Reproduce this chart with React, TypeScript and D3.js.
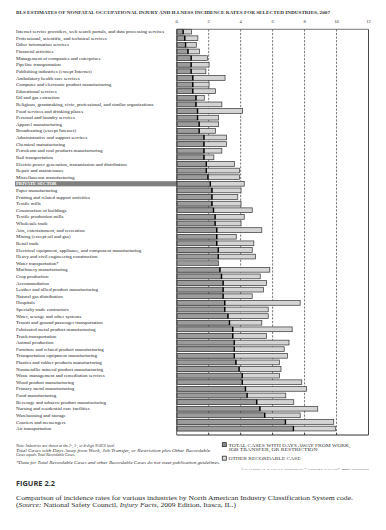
import React from "react";
import * as d3 from "d3";

// BLS 2007 incidence rates per 100 full-time workers
const categories = [
  "Internet service providers, web search portals, and data processing services",
  "Professional, scientific, and technical services",
  "Other information services",
  "Financial activities",
  "Management of companies and enterprises",
  "Pipeline transportation",
  "Publishing industries (except Internet)",
  "Ambulatory health care services",
  "Computer and electronic product manufacturing",
  "Educational services",
  "Oil and gas extraction",
  "Religious, grantmaking, civic, professional, and similar organizations",
  "Food services and drinking places",
  "Personal and laundry services",
  "Apparel manufacturing",
  "Broadcasting (except Internet)",
  "Administrative and support services",
  "Chemical manufacturing",
  "Petroleum and coal products manufacturing",
  "Rail transportation",
  "Electric power generation, transmission and distribution",
  "Repair and maintenance",
  "Miscellaneous manufacturing",
  "PRIVATE SECTOR",
  "Paper manufacturing",
  "Printing and related support activities",
  "Textile mills",
  "Construction of buildings",
  "Textile production mills",
  "Wholesale trade",
  "Arts, entertainment, and recreation",
  "Mining (except oil and gas)",
  "Retail trade",
  "Electrical equipment, appliance, and component manufacturing",
  "Heavy and civil engineering construction",
  "Water transportation*",
  "Machinery manufacturing",
  "Crop production",
  "Accommodation",
  "Leather and allied product manufacturing",
  "Natural gas distribution",
  "Hospitals",
  "Specialty trade contractors",
  "Water, sewage and other systems",
  "Transit and ground passenger transportation",
  "Fabricated metal product manufacturing",
  "Truck transportation",
  "Animal production",
  "Furniture and related product manufacturing",
  "Transportation equipment manufacturing",
  "Plastics and rubber products manufacturing",
  "Nonmetallic mineral product manufacturing",
  "Waste management and remediation services",
  "Wood product manufacturing",
  "Primary metal manufacturing",
  "Food manufacturing",
  "Beverage and tobacco product manufacturing",
  "Nursing and residential care facilities",
  "Warehousing and storage",
  "Couriers and messengers",
  "Air transportation",
];

const daysAway = [
  0.4, 0.5, 0.55, 0.7, 0.9, 0.9, 0.9, 1.0, 1.0, 1.0, 1.2, 1.2, 1.3,
  1.3, 1.4, 1.4, 1.7, 1.7, 1.7, 1.7, 1.85, 1.85, 1.95, 2.1, 2.2,
  2.2, 2.2, 2.3, 2.4, 2.4, 2.5, 2.5, 2.5, 2.6, 2.6, 2.6, 2.7, 2.8, 2.9,
  2.9, 2.9, 3.0, 3.0, 3.2, 3.3, 3.5, 3.5, 3.6, 3.6, 3.6, 3.7, 3.9,
  4.1, 4.1, 4.3, 4.4, 5.0, 5.2, 5.5, 6.8, 7.3,
];

// null = does not meet publication guidelines
const totalRecordable = [
  0.9, 1.3, 1.2, 1.4, 1.9, 2.0, 1.8, 3.0, 2.0, 2.4, 1.7, 2.8, 4.1,
  2.6, 2.6, 2.4, 3.1, 3.1, 2.8, 2.3, 3.6, 3.9, 3.9, 4.2, 4.0,
  3.8, 4.0, 4.7, 4.2, 4.0, 5.3, 3.7, 4.8, 4.7, 4.9, null, 5.8, 5.2, 5.6,
  5.4, 4.7, 7.7, 5.7, 5.7, 5.3, 7.2, 5.6, 7.0, 6.7, 6.9, 6.4, 6.5,
  6.4, 7.8, 8.1, 6.8, 7.3, 8.8, 7.7, 9.8, 9.9,
];

const ticks = [0, 2, 4, 6, 8, 10, 12];

const notes = [
  "Note: Industries are shown at the 2-, 3-, or 4-digit NAICS level.",
  "Total Cases with Days Away from Work, Job Transfer, or Restriction plus Other Recordable",
  "Cases equals Total Recordable Cases.",
  "*Data for Total Recordable Cases and other Recordable Cases do not meet publication guidelines.",
];

const W = 386;
const H = 530;
const serif = "'Liberation Serif', 'Times New Roman', serif";

const App = () => {
  const x = d3.scaleLinear().domain([0, 12]).range([176.7, 368.5]);
  const y = d3
    .scaleBand<string>()
    .domain(categories)
    .range([28.6, 431.6])
    .paddingInner(0.28)
    .paddingOuter(0.1);
  const top = 29.3;
  const bottom = 435;
  const bh = y.bandwidth();

  return (
    <div style={{ position: "absolute", left: 0, top: 0 }}>
      <svg width={W} height={H} style={{ display: "block", background: "#fff" }}>
        <text
          x={16}
          y={14}
          fontFamily={serif}
          fontSize={4.6}
          fontWeight="bold"
          fill="#333"
          textLength={314}
          lengthAdjust="spacingAndGlyphs"
        >
          BLS ESTIMATES OF NONFATAL OCCUPATIONAL INJURY AND ILLNESS INCIDENCE RATES FOR SELECTED INDUSTRIES, 2007
        </text>

        {/* axis labels */}
        {ticks.map((t) => (
          <text
            key={"t" + t}
            x={x(t)}
            y={22.5}
            textAnchor="middle"
            fontFamily={serif}
            fontSize={4.6}
            fill="#333"
          >
            {t}
          </text>
        ))}

        {/* gridlines */}
        {ticks.slice(1, -1).map((t) => (
          <g key={"g" + t}>
            <line
              x1={x(t)}
              x2={x(t)}
              y1={top}
              y2={bottom}
              stroke="#555"
              strokeWidth={0.8}
              strokeDasharray="2.2,1.4"
            />
            <line x1={x(t)} x2={x(t)} y1={bottom - 2} y2={bottom} stroke="#333" strokeWidth={0.8} />
          </g>
        ))}

        {/* bars */}
        {categories.map((c, i) => {
          const yy = y(c) as number;
          const d = daysAway[i];
          const tot = totalRecordable[i];
          return (
            <g key={c}>
              {c === "PRIVATE SECTOR" && (
                <rect x={15} y={yy - 0.2} width={x(0) - 15} height={bh + 0.4} fill="#808080" />
              )}
              <text
                x={16}
                y={yy + bh / 2 + 1.6}
                fontFamily={serif}
                fontSize={c === "PRIVATE SECTOR" ? 4.7 : 4.95}
                fontWeight={c === "PRIVATE SECTOR" ? "bold" : "normal"}
                fill={c === "PRIVATE SECTOR" ? "#fff" : "#222"}
              >
                {c}
              </text>
              {tot != null && (
                <rect
                  x={x(0) + 0.4}
                  y={yy}
                  width={x(tot) - x(0)}
                  height={bh}
                  fill="#d4d4d4"
                  stroke="#333"
                  strokeWidth={0.7}
                />
              )}
              <rect
                x={x(0) + 0.4}
                y={yy}
                width={x(d) - x(0)}
                height={bh}
                fill="#9c9c9c"
                stroke="#444"
                strokeWidth={0.7}
              />
              {tot != null && (
                <line x1={x(d)} x2={x(d)} y1={yy} y2={yy + bh} stroke="#000" strokeWidth={1.3} />
              )}
            </g>
          );
        })}

        {/* frame */}
        <line x1={x(0)} x2={x(12)} y1={top} y2={top} stroke="#555" strokeWidth={0.8} />
        <line x1={x(0)} x2={x(12)} y1={bottom} y2={bottom} stroke="#333" strokeWidth={1} />
        <line x1={x(0)} x2={x(0)} y1={top} y2={bottom} stroke="#333" strokeWidth={0.8} />
        <line x1={x(12)} x2={x(12)} y1={top} y2={bottom} stroke="#333" strokeWidth={0.9} />

        {/* notes */}
        {notes.map((n, i) => (
          <text
            key={"n" + i}
            x={16}
            y={[447, 451.6, 456.4, 463.8][i]}
            fontFamily={serif}
            fontSize={3.9}
            fontStyle="italic"
            fill="#333"
            textLength={i === 3 ? 204 : i === 1 ? 194 : undefined}
            lengthAdjust="spacingAndGlyphs"
          >
            {n}
          </text>
        ))}

        {/* legend */}
        <rect x={222.3} y={442.6} width={4} height={4} fill="#8a8a8a" stroke="#333" strokeWidth={0.8} />
        <text x={228.5} y={446.6} fontFamily={serif} fontSize={4.4} fill="#333" textLength={122} lengthAdjust="spacingAndGlyphs">
          TOTAL CASES WITH DAYS AWAY FROM WORK,
        </text>
        <text x={228.5} y={451.4} fontFamily={serif} fontSize={4.4} fill="#333" textLength={89} lengthAdjust="spacingAndGlyphs">
          JOB TRANSFER, OR RESTRICTION
        </text>
        <rect x={222.3} y={456.2} width={4} height={4} fill="#dcdcdc" stroke="#333" strokeWidth={0.8} />
        <text x={228.5} y={460.2} fontFamily={serif} fontSize={4.4} fill="#333" textLength={72} lengthAdjust="spacingAndGlyphs">
          OTHER RECORDABLE CASE
        </text>
        <text x={369} y={470.4} textAnchor="end" fontFamily={serif} fontSize={2.8} fill="#444" textLength={128} lengthAdjust="spacingAndGlyphs">
          ©NATIONAL SAFETY COUNCIL®   INJURY FACTS® 2009 EDITION
        </text>

        {/* caption */}
        <text
          x={16}
          y={486}
          fontFamily="'Open Sans', 'DejaVu Sans', sans-serif"
          fontSize={6.3}
          fontWeight="bold"
          fill="#333"
          textLength={39}
          lengthAdjust="spacingAndGlyphs"
        >
          FIGURE 2.2
        </text>
        <text x={16} y={500.3} fontFamily={serif} fontSize={6.1} fill="#2a2a2a" textLength={337} lengthAdjust="spacingAndGlyphs">
          Comparison of incidence rates for various industries by North American Industry Classification System code.
        </text>
        <text x={16} y={507.3} fontFamily={serif} fontSize={6.1} fill="#2a2a2a" textLength={220} lengthAdjust="spacingAndGlyphs">
          (<tspan fontStyle="italic">Source:</tspan> National Safety Council, <tspan fontStyle="italic">Injury Facts</tspan>, 2009 Edition, Itasca, IL.)
        </text>
      </svg>
    </div>
  );
};

export default App;
